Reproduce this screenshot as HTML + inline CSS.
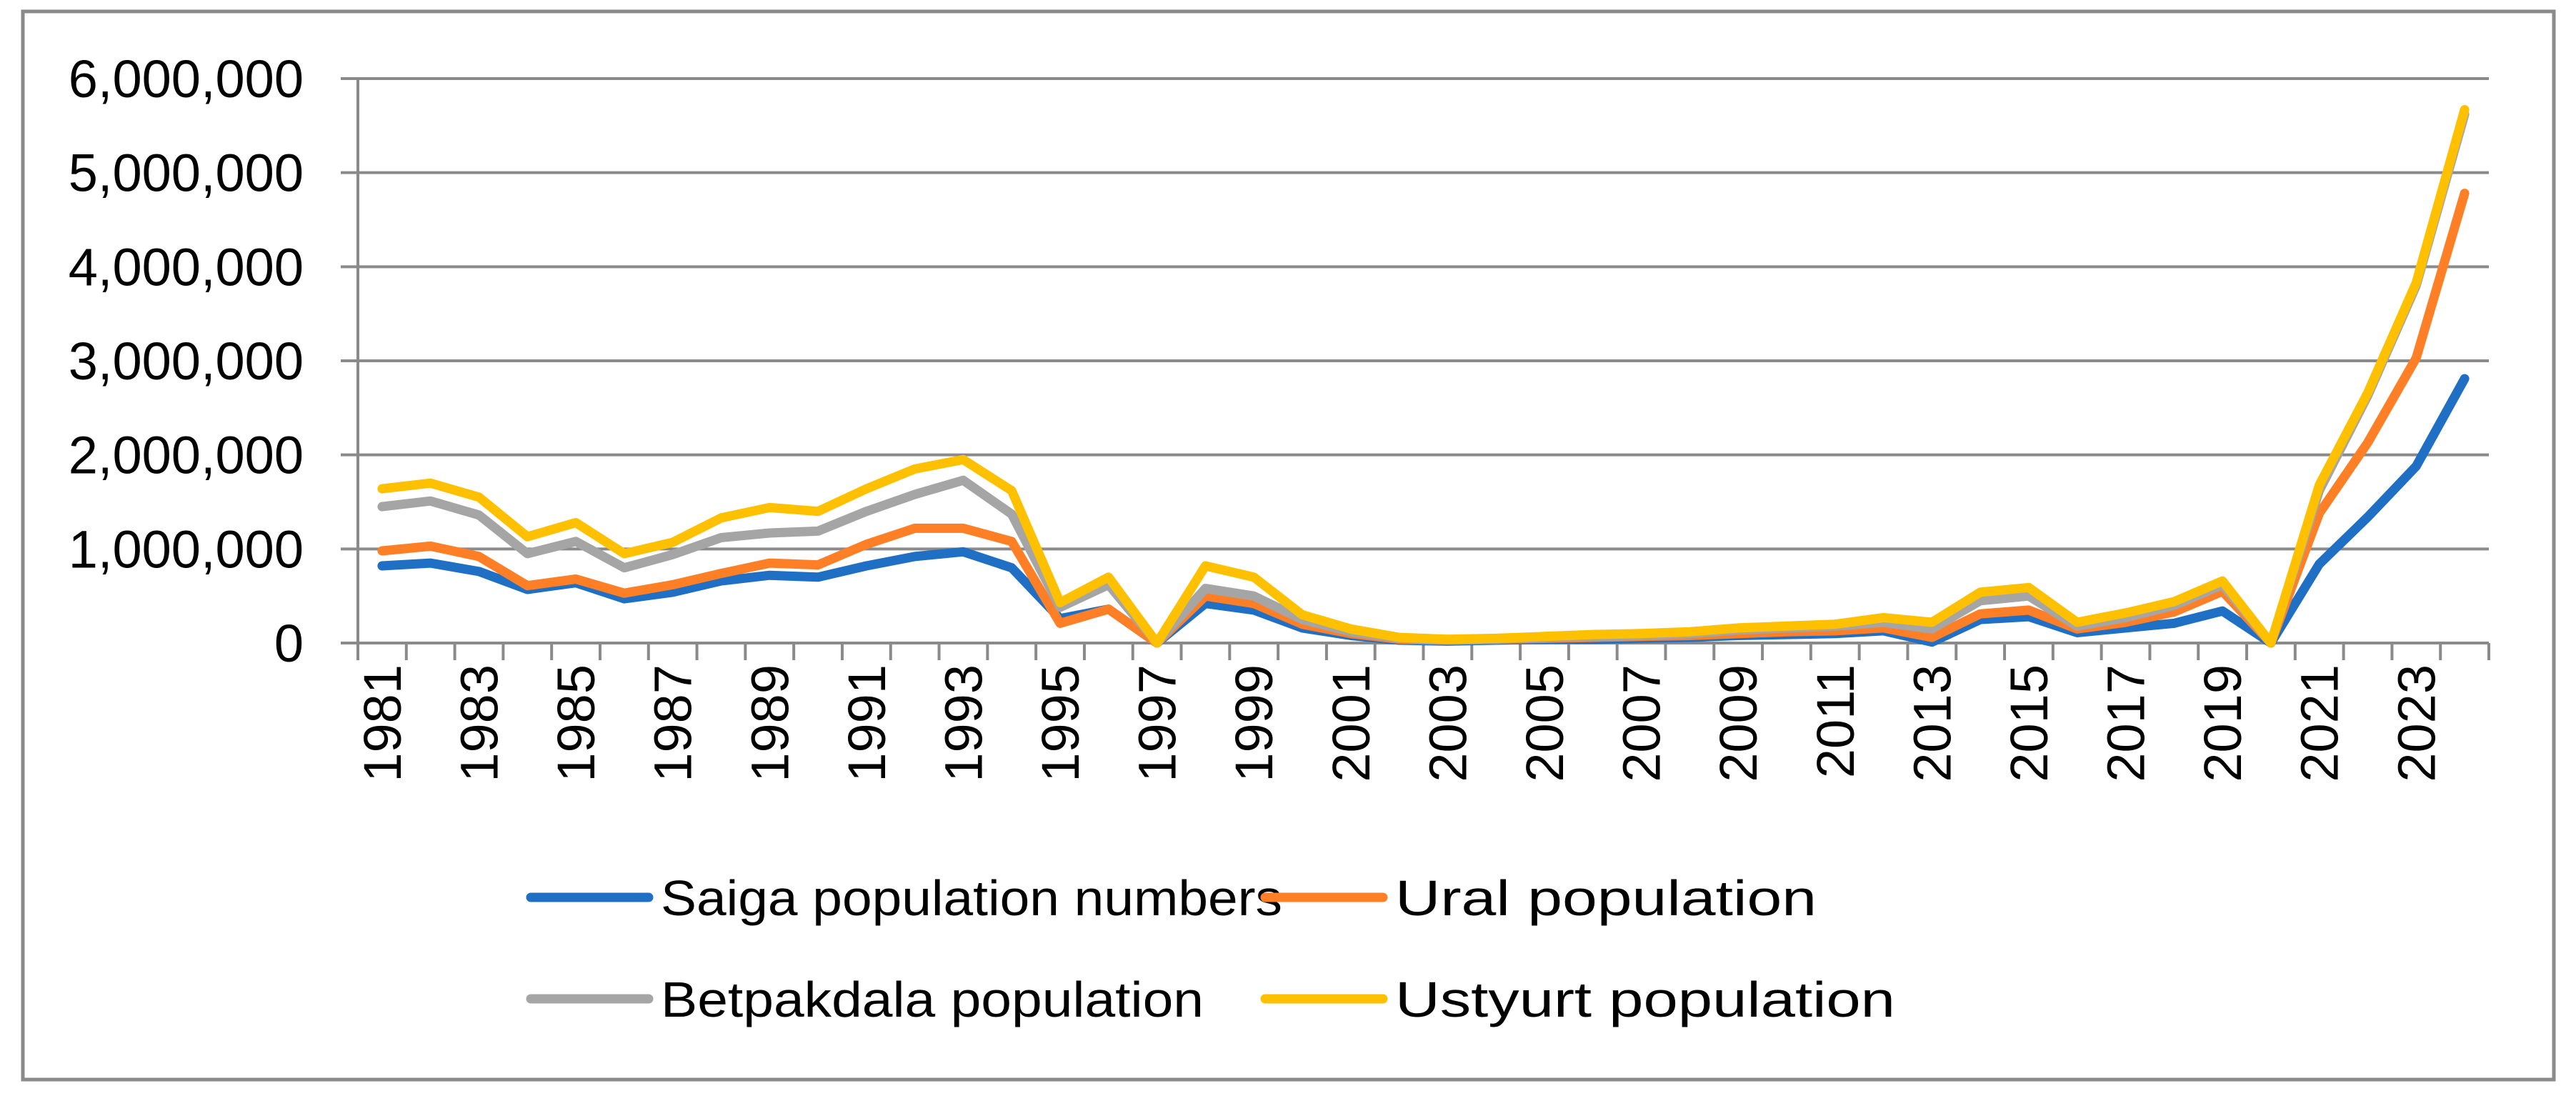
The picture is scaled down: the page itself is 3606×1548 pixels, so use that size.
<!DOCTYPE html>
<html><head><meta charset="utf-8"><style>
html,body{margin:0;padding:0;background:#fff;}
svg{display:block;font-family:"Liberation Sans",sans-serif;}
</style></head><body>
<svg id="chart" width="3606" height="1548" viewBox="0 0 3606 1548" xmlns="http://www.w3.org/2000/svg">
<rect x="32" y="16" width="3543" height="1495" fill="#fff" stroke="#8a8a8a" stroke-width="5"/>
<g id="grid"></g><g id="axes"></g><g id="series"></g><g id="legend"></g>
</svg>
<script>
const years = [];
for (let y = 1981; y <= 2024; y++) years.push(y);
const yTicks = [0,1000000,2000000,3000000,4000000,5000000,6000000];
const yTickLabels = ["0","1,000,000","2,000,000","3,000,000","4,000,000","5,000,000","6,000,000"];
const seriesNames = ["Saiga population numbers","Ural population","Betpakdala population","Ustyurt population"];
const saiga = [0.82,0.85,0.76,0.57,0.64,0.47,0.54,0.66,0.72,0.70,0.82,0.92,0.97,0.80,0.26,0.36,0,0.42,0.35,0.16,0.08,0.03,0.02,0.03,0.04,0.04,0.05,0.06,0.08,0.09,0.10,0.13,0.01,0.25,0.28,0.11,0.16,0.21,0.34,0,0.84,1.34,1.88,2.81];
const ural = [0.98,1.03,0.92,0.61,0.68,0.53,0.62,0.74,0.85,0.83,1.05,1.22,1.22,1.08,0.21,0.36,0,0.50,0.42,0.20,0.10,0.04,0.03,0.04,0.05,0.06,0.07,0.08,0.10,0.12,0.13,0.16,0.06,0.31,0.35,0.15,0.22,0.33,0.55,0,1.38,2.13,3.03,4.78];
const betpakdala = [1.45,1.51,1.36,0.95,1.08,0.80,0.94,1.12,1.17,1.19,1.40,1.58,1.73,1.37,0.38,0.62,0,0.58,0.50,0.25,0.12,0.05,0.03,0.04,0.06,0.07,0.08,0.10,0.14,0.16,0.18,0.22,0.15,0.45,0.50,0.18,0.27,0.40,0.62,0,1.62,2.63,3.80,5.62];
const ustyurt = [1.64,1.70,1.55,1.13,1.28,0.95,1.07,1.33,1.44,1.40,1.64,1.85,1.95,1.62,0.43,0.70,0,0.82,0.70,0.30,0.15,0.06,0.04,0.05,0.07,0.09,0.10,0.12,0.16,0.18,0.20,0.27,0.22,0.54,0.59,0.22,0.32,0.44,0.66,0,1.68,2.66,3.83,5.67];

const NS = "http://www.w3.org/2000/svg";
const L = 501, R = 3484, T = 110, B = 900, YMAX = 6000000;
const step = (R - L) / years.length;
function xPos(i){ return L + step * (i + 0.5); }
function yPos(v){ return B - (v / YMAX) * (B - T); }
function mk(tag, attrs, parent){ const e = document.createElementNS(NS, tag); for (const k in attrs) e.setAttribute(k, attrs[k]); parent.appendChild(e); return e; }
const grid = document.getElementById('grid'), axes = document.getElementById('axes'), ser = document.getElementById('series'), leg = document.getElementById('legend');

yTicks.forEach((v, i) => {
  const ln = mk('line', {x1: L - 24, x2: R, y1: yPos(v), y2: yPos(v), stroke: '#8a8a8a', 'stroke-width': 4}, grid);
  
  
  const t = mk('text', {x: 425, y: yPos(v) + 26, 'text-anchor': 'end', 'font-size': 74, fill: '#000'}, axes);
  t.textContent = yTickLabels[i];
  
  
});
const ya = mk('line', {x1: L, x2: L, y1: T, y2: B + 24, stroke: '#8a8a8a', 'stroke-width': 4}, axes);


for (let i = 0; i <= years.length; i++) {
  const x = L + step * i;
  const tk = mk('line', {x1: x, x2: x, y1: B, y2: B + 24, stroke: '#8a8a8a', 'stroke-width': 4}, axes);
  
  
}
years.forEach((yr, i) => {
  if (i % 2) return;
  const x = xPos(i) + 26, y = 930;
  const t = mk('text', {x: x, y: y, 'text-anchor': 'end', 'font-size': 74, fill: '#000', transform: 'rotate(-90 ' + x + ' ' + y + ')'}, axes);
  t.textContent = yr;
  
  
});

const allSeries = [saiga, ural, betpakdala, ustyurt];
const colors = ['#1f70c4', '#ff7f27', '#a5a5a5', '#ffc000'];
allSeries.forEach((arr, s) => {
  const pts = arr.map((v, i) => xPos(i).toFixed(1) + ',' + yPos(v * 1000000).toFixed(1)).join(' ');
  const pl = mk('polyline', {points: pts, fill: 'none', stroke: colors[s], 'stroke-width': 13, 'stroke-linejoin': 'round', 'stroke-linecap': 'round'}, ser);
  
  
});

const legPos = [[743, 1256, 870], [1771, 1256, 590], [743, 1398, 760], [1771, 1398, 700]];
seriesNames.forEach((n, s) => {
  const [x, y, tl] = legPos[s];
  const g = mk('g', {}, leg);
  
  
  mk('line', {x1: x, x2: x + 165, y1: y, y2: y, stroke: colors[s], 'stroke-width': 13, 'stroke-linecap': 'round'}, g);
  const t = mk('text', {x: x + 182, y: y + 25, 'font-size': 70, fill: '#000', textLength: tl, lengthAdjust: 'spacingAndGlyphs'}, g);
  t.textContent = n;
});
</script>
</body></html>
